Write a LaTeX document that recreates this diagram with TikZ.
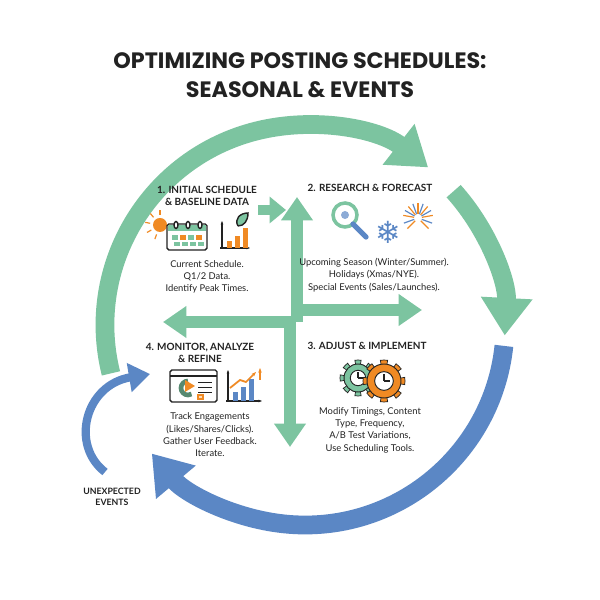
\documentclass[tikz,border=0pt]{standalone}
\usepackage{fontspec}
\setmainfont{Lato}
\newfontfamily\titlefont{Poppins}
\newfontfamily\symfont{DejaVu Sans}
\usetikzlibrary{arrows.meta}
\definecolor{gr}{HTML}{7CC4A0}
\definecolor{bl}{HTML}{5B87C5}
\definecolor{og}{HTML}{F08A24}
\definecolor{tx}{HTML}{222222}
\tikzset{
 ring/.style={line width=16pt,-{Triangle[width=42pt,length=32pt]}},
 cross/.style={gr,line width=10pt,-{Triangle[width=26pt,length=20pt]}},
 head/.style={font=\bfseries\fontsize{8.5}{10.5}\selectfont,text=tx,align=center},
 body/.style={font=\fontsize{8}{10.5}\selectfont,text=tx,align=center},
 icon/.style={line width=1.2pt,draw=tx},
}
\begin{document}
\begin{tikzpicture}[x=0.03cm,y=0.03cm]
\useasboundingbox (0,0) rectangle (600,600);
\fill[white] (0,0) rectangle (600,600);
% title
\node[font=\titlefont\bfseries\fontsize{19}{25}\selectfont,text=tx,align=center] (title) at (300,525) {OPTIMIZING POSTING SCHEDULES:\\SEASONAL \& EVENTS};
% rings
\coordinate (c) at (305,275);
\draw[ring,gr] (c) ++(194:200) arc[start angle=194,end angle=52,radius=200];
\draw[ring,gr] (c) ++(42:200) arc[start angle=42,end angle=-3,radius=200];
\draw[ring,bl] (c) ++(-6:200) arc[start angle=-6,end angle=-140,radius=200];
\coordinate (ue1) at (105,128);
\coordinate (ue2) at (150,226);
\draw[bl,line width=7pt,-{Triangle[width=24pt,length=18pt]}] (ue1) .. controls (70,155) and (85,215) .. (ue2);
\node[font=\bfseries\fontsize{7.5}{9.5}\selectfont,text=tx,align=center] (ue) at (112,103) {UNEXPECTED\\EVENTS};
% central cross
\coordinate (v1) at (297,278); \coordinate (v1e) at (297,403);
\coordinate (h1e) at (422,290);
\coordinate (v2) at (290,282); \coordinate (v2e) at (290,153);
\coordinate (h2e) at (163,278);
\draw[cross] (v1) -- (v1e);
\draw[cross] (292,290) -- (h1e);
\draw[cross] (v2) -- (v2e);
\draw[cross] (295,278) -- (h2e);
\coordinate (s1) at (258,390); \coordinate (s2) at (286,390);
\draw[gr,line width=9pt,-{Triangle[width=22pt,length=14pt]}] (s1) -- (s2);
% panel 1
\node[head] (h1) at (207,404) {1. INITIAL SCHEDULE\\\& BASELINE DATA};
\node[body] (b1) at (207,323) {Current Schedule.\\Q1/2 Data.\\Identify Peak Times.};
\fill[og] (160,375) circle (7);
\foreach \a in {90,130,...,250} \draw[og,line width=1pt] (160,375)++(\a:10) -- ++(\a:5);
\draw[icon,fill=white,rounded corners=1.5pt] (167,350) rectangle (207,376);
\fill[gr] (167.6,369) rectangle (206.4,375.4);
\foreach \x in {176,188,200} \draw[icon,fill=white] (\x,375) ellipse (2 and 3.5);
\foreach \x/\c in {172/gr,180/og,188/gr,196/og}{\fill[\c] (\x,360) rectangle +(6,5);\fill[gr] (\x+2,354) rectangle +(6,4);}
\draw[icon,-{Stealth[length=3pt]}] (222,351) -- (222,379);
\draw[icon,-{Stealth[length=3pt]}] (220,352) -- (250,352);
\fill[og] (227,352) rectangle +(5,7);\fill[og] (235,352) rectangle +(5,12);\fill[og] (243,352) rectangle +(5,20);
\draw[icon,fill=gr] (238,374) .. controls (234,381) and (240,387) .. (248,387) .. controls (248,379) and (244,374) .. (238,374);
% panel 2
\node[head] (h2) at (370,412) {2. RESEARCH \& FORECAST};
\node[body] (b2) at (374,325) {Upcoming Season (Winter/Summer).\\Holidays (Xmas/NYE).\\Special Events (Sales/Launches).};
\draw[icon,fill=white,line width=3pt,draw=gr] (345,385) circle (12);
\draw[bl,line width=4.5pt,line cap=round] (353,376) -- (366,363);
\fill[bl!70] (345,385) circle (4);
\node[font=\symfont\fontsize{26}{26}\selectfont,text=bl] (snow) at (388,368) {❄};
\foreach \a/\c in {10/og,30/bl,50/og,70/bl,90/og,110/bl,130/og,150/bl,170/og,-20/bl,-45/og,200/bl,225/og}
 \draw[\c,line width=1pt] (418,382)++(\a:4) -- ++(\a:11);
% panel 3
\node[head] (h3) at (367,254) {3. ADJUST \& IMPLEMENT};
\node[body] (b3) at (370,170) {Modify Timings, Content\\Type, Frequency,\\A/B Test Variations,\\Use Scheduling Tools.};
\foreach \cx/\cy/\r/\c in {358/222/14/gr,384/219/17/og}{
 \foreach \a in {0,45,...,315} \fill[\c,draw=tx,line width=0.6pt] (\cx,\cy)++(\a-10:\r) -- ++(\a-10:4) arc[start angle=\a-10,end angle=\a+10,radius=\r+4] -- (\cx,\cy)++(\a+10:\r) -- cycle;
 \draw[fill=\c,draw=tx,line width=0.8pt] (\cx,\cy) circle (\r);
 \draw[fill=white,draw=tx,line width=0.8pt] (\cx,\cy) circle (\r*0.55);
 \draw[tx,line width=1pt] (\cx,\cy) -- ++(0,\r*0.4) (\cx,\cy) -- ++(\r*0.35,0);}
% panel 4
\node[head] (h4) at (200,247) {4. MONITOR, ANALYZE\\\& REFINE};
\node[body] (b4) at (210,165) {Track Engagements\\(Likes/Shares/Clicks).\\Gather User Feedback.\\Iterate.};
\draw[icon,fill=white,rounded corners=1.5pt] (170,198) rectangle (217,230);
\draw[icon] (170,224) -- (217,224);
\draw[icon,draw=gr!70!black,line width=4pt] (188,212) ++(90:7) arc[start angle=90,end angle=300,radius=7];
\fill[og] (185,220) -- (195,214) -- (185,208) -- cycle;
\foreach \y in {218,213,208} \draw[icon,line width=0.8pt] (198,\y) -- (212,\y);
\draw[icon,draw=og,fill=og!30] (198,201) rectangle (203,205);
\draw[icon,-{Stealth[length=3pt]}] (228,198) -- (228,230);
\draw[icon,-{Stealth[length=3pt]}] (226,199) -- (262,199);
\fill[bl] (233,199) rectangle +(5,9);\fill[bl] (241,199) rectangle +(5,14);\fill[bl] (249,199) rectangle +(5,22);
\draw[og,line width=1.5pt,-{Stealth[length=4pt]}] (230,212) -- (240,220) -- (246,218) -- (256,228);
\draw[og,line width=1.5pt,-{Stealth[length=4pt]}] (260,220) -- (260,232);
\end{tikzpicture}
\end{document}
